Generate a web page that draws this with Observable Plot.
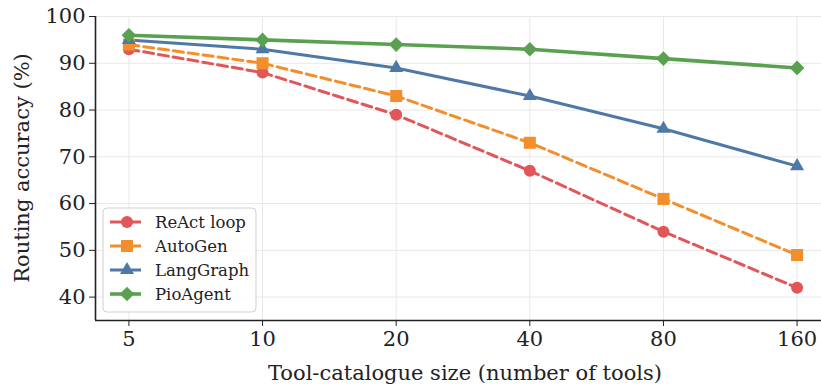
<!DOCTYPE html>
<html>
<head>
<meta charset="utf-8">
<script src="https://cdn.jsdelivr.net/npm/d3@7"></script>
<script src="https://cdn.jsdelivr.net/npm/@observablehq/plot@0.6"></script>
<style>
  html, body { margin: 0; padding: 0; background: #fff; overflow: hidden; }
  #chart { position: relative; width: 821px; height: 387px; }
</style>
</head>
<body>
<div id="chart"></div>
<script>
// ---- data ----
const sizes = [5, 10, 20, 40, 80, 160];
const seriesNames = ["ReAct loop", "AutoGen", "LangGraph", "PioAgent"];
const reactLoop = [93, 88, 79, 67, 54, 42];
const autoGen   = [94, 90, 83, 73, 61, 49];
const langGraph = [95, 93, 89, 83, 76, 68];
const pioAgent  = [96, 95, 94, 93, 91, 89];
const yTicks = [40, 50, 60, 70, 80, 90, 100];
const xLabel = "Tool-catalogue size (number of tools)";
const yLabel = "Routing accuracy (%)";

// ---- styles ----
const colors = ["#e15759", "#f28e2b", "#4e79a7", "#59a14f"];
const symbols = ["circle", "square", "triangle", "diamond2"];
const d3symbols = [d3.symbolCircle, d3.symbolSquare, d3.symbolTriangle, d3.symbolDiamond2];
const radii = [6, 6.8, 5.2, 6.6];
const dashes = ["10,5", "10,5", null, null];
const widths = [3, 3, 3, 3.6];

const allValues = [reactLoop, autoGen, langGraph, pioAgent];
const rows = [];
seriesNames.forEach((s, i) => sizes.forEach((n, j) => rows.push({series: s, size: n, value: allValues[i][j]})));

const xMin = 5 * Math.pow(2, -0.25), xMax = 160 * Math.pow(2, 0.25);
const FS = 21;

const marks = [
  Plot.gridY(yTicks, {stroke: "#e8e8e8", strokeOpacity: 1, strokeWidth: 1}),
  Plot.gridX(sizes, {stroke: "#e8e8e8", strokeOpacity: 1, strokeWidth: 1}),
  Plot.axisY(yTicks, {tickSize: 6, tickPadding: 4, fontSize: FS, label: null, tickFormat: d => d, stroke: "#222"}),
  Plot.axisX(sizes, {tickSize: 6, tickPadding: 5, fontSize: FS, label: null, tickFormat: d => d, stroke: "#222"}),
  Plot.ruleX([xMin], {stroke: "#222", strokeWidth: 1.6}),
  Plot.ruleY([35], {stroke: "#222", strokeWidth: 1.6}),
];
seriesNames.forEach((s, i) => {
  marks.push(Plot.line(rows.filter(r => r.series === s), {
    x: "size", y: "value", stroke: colors[i], strokeWidth: widths[i],
    strokeDasharray: dashes[i] || undefined
  }));
});
seriesNames.forEach((s, i) => {
  marks.push(Plot.dot(rows.filter(r => r.series === s), {
    x: "size", y: "value", fill: colors[i], stroke: "none",
    symbol: () => symbols[i], r: radii[i]
  }));
});

const chart = Plot.plot({
  width: 821,
  height: 387,
  marginTop: 16,
  marginBottom: 67,
  marginLeft: 95,
  marginRight: 0,
  style: {fontFamily: "DejaVu Serif", fontSize: FS + "px", color: "#222", background: "#fff"},
  x: {type: "log", base: 2, domain: [xMin, xMax], range: [95, 830]},
  y: {domain: [35, 100]},
  symbol: {domain: symbols, range: symbols},
  marks
});
document.getElementById("chart").appendChild(chart);

// axis titles and legend
const svg = d3.select(chart);
svg.append("text")
  .attr("x", 465).attr("y", 373).attr("dy", "0.35em")
  .attr("text-anchor", "middle")
  .attr("font-family", "DejaVu Serif").attr("font-size", FS).attr("fill", "#222")
  .text(xLabel);
svg.append("text")
  .attr("transform", "translate(22,168) rotate(-90)")
  .attr("text-anchor", "middle").attr("dy", "0.35em")
  .attr("font-family", "DejaVu Serif").attr("font-size", FS).attr("fill", "#222")
  .text(yLabel);

const lg = svg.append("g").attr("transform", "translate(103,208)");
lg.append("rect").attr("width", 153).attr("height", 104).attr("rx", 4)
  .attr("fill", "#fff").attr("fill-opacity", 0.85).attr("stroke", "#d0d0d0").attr("stroke-width", 1);
seriesNames.forEach((s, i) => {
  const cy = 14 + i * 24;
  lg.append("line").attr("x1", 7).attr("x2", 38).attr("y1", cy).attr("y2", cy)
    .attr("stroke", colors[i]).attr("stroke-width", widths[i]);
  lg.append("path")
    .attr("transform", `translate(24,${cy})`)
    .attr("d", d3.symbol(d3symbols[i], Math.PI * radii[i] * radii[i])())
    .attr("fill", colors[i]);
  lg.append("text").attr("x", 52).attr("y", cy).attr("dy", "0.35em")
    .attr("text-anchor", "start")
    .attr("font-family", "DejaVu Serif").attr("font-size", 16.5).attr("fill", "#222")
    .text(s);
});
</script>
</body>
</html>
